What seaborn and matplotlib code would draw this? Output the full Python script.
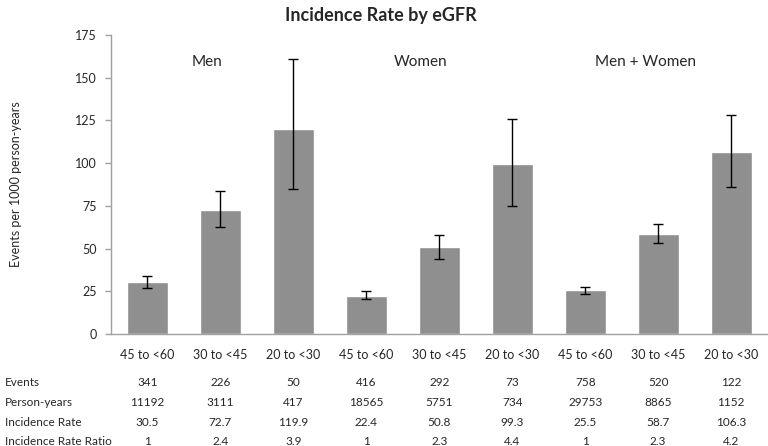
import matplotlib
matplotlib.use("Agg")
import matplotlib.pyplot as plt
import matplotlib.transforms as mtransforms
import seaborn as sns
import pandas as pd

# ---- data ----
egfr_labels = ["45 to <60", "30 to <45", "20 to <30",
               "45 to <60", "30 to <45", "20 to <30",
               "45 to <60", "30 to <45", "20 to <30"]
groups = ["Men", "Women", "Men + Women"]
rates = [30.5, 72.7, 119.9, 22.4, 50.8, 99.3, 25.5, 58.7, 106.3]
ci_low = [26.7, 62.4, 84.7, 20.3, 43.9, 75.2, 23.6, 53.1, 86.0]
ci_high = [34.1, 83.7, 160.7, 25.0, 57.7, 125.6, 27.7, 64.2, 128.3]
events = ["341", "226", "50", "416", "292", "73", "758", "520", "122"]
person_years = ["11192", "3111", "417", "18565", "5751", "734", "29753", "8865", "1152"]
inc_rate = ["30.5", "72.7", "119.9", "22.4", "50.8", "99.3", "25.5", "58.7", "106.3"]
irr = ["1", "2.4", "3.9", "1", "2.3", "4.4", "1", "2.3", "4.2"]
row_names = ["Events", "Person-years", "Incidence Rate", "Incidence Rate Ratio"]
yticks = [0, 25, 50, 75, 100, 125, 150, 175]

sns.set_theme(style="white")
plt.rcParams["font.family"] = ["Lato", "DejaVu Sans"]

df = pd.DataFrame({"bar": [str(i) for i in range(len(rates))], "rate": rates})

fig = plt.figure(figsize=(7.68, 4.46), dpi=100)
ax = fig.add_axes([0.1445, 0.251, 0.855, 0.6705])

sns.barplot(data=df, x="bar", y="rate", color="#8f8f8f", saturation=1,
            width=0.56, ax=ax, errorbar=None)
xs = list(range(len(rates)))
yerr = [[r - lo for r, lo in zip(rates, ci_low)], [hi - r for r, hi in zip(rates, ci_high)]]
ax.errorbar(xs, rates, yerr=yerr, fmt="none", ecolor="black", elinewidth=1.0,
            capsize=3.5, capthick=1.0)

ax.set_ylim(0, 175)
ax.set_xlim(-0.5, len(rates) - 0.5)
ax.set_yticks(yticks)
ax.set_yticklabels([str(t) for t in yticks], fontsize=9)
ax.set_xticks(xs)
ax.set_xticklabels(egfr_labels, fontsize=9)
ax.set_xlabel("")
ax.set_ylabel("Events per 1000 person-years", fontsize=9)
ax.yaxis.set_label_coords(-0.135, 0.5)
ax.tick_params(axis="y", which="major", left=True, length=4, color="#a0a0a0", width=1, pad=6)
ax.tick_params(axis="x", bottom=False, pad=5)
for s in ["top", "right"]:
    ax.spines[s].set_visible(False)
for s in ["left", "bottom"]:
    ax.spines[s].set_color("#a0a0a0")
    ax.spines[s].set_linewidth(1)

# group titles
for g, xpos in zip(groups, [0.82, 3.74, 6.83]):
    ax.text(xpos, 159, g, ha="center", va="center", fontsize=11)

fig.suptitle("Incidence Rate by eGFR", x=0.496, y=0.985, fontsize=13, fontweight="bold")

# table below
trans = mtransforms.blended_transform_factory(ax.transData, fig.transFigure)
rows = [events, person_years, inc_rate, irr]
row_y = [382.7, 402.5, 422.0, 441.7]
for name, vals, ypix in zip(row_names, rows, row_y):
    yf = 1 - ypix / 446
    fig.text(5 / 768, yf, name, ha="left", va="center", fontsize=8.5)
    for x, v in zip(xs, vals):
        ax.text(x, yf, v, transform=trans, ha="center", va="center", fontsize=8.5)

fig.savefig("out.png", dpi=100)
